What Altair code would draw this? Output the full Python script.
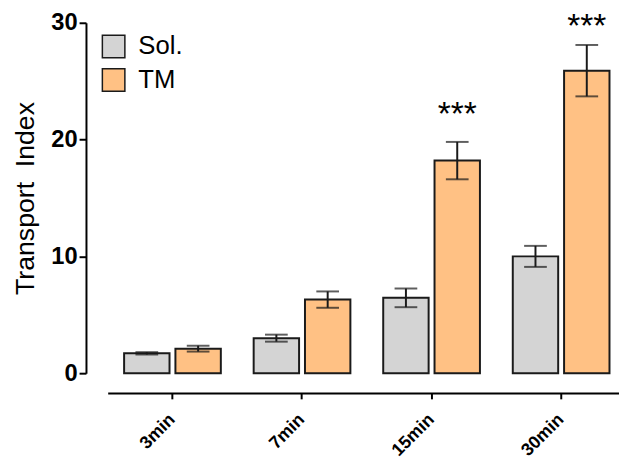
import altair as alt
import pandas as pd

groups = ["3min", "7min", "15min", "30min"]
series = ["Sol.", "TM"]
sol_mean = [1.7, 3.0, 6.45, 10.0]
sol_err = [0.1, 0.3, 0.8, 0.9]
tm_mean = [2.1, 6.3, 18.2, 25.9]
tm_err = [0.25, 0.7, 1.6, 2.2]
sig_labels = ["***", "***"]
sig_groups = ["15min", "30min"]
sig_y = [22.7, 30.2]
colors = ["#d4d4d4", "#ffc184"]

rows = []
for g, m, e in zip(groups, sol_mean, sol_err):
    rows.append({"group": g, "series": "Sol.", "mean": m, "lo": m - e, "hi": m + e})
for g, m, e in zip(groups, tm_mean, tm_err):
    rows.append({"group": g, "series": "TM", "mean": m, "lo": m - e, "hi": m + e})
df = pd.DataFrame(rows)
df_sig = pd.DataFrame({"group": sig_groups, "series": ["TM"] * len(sig_groups),
                       "label": sig_labels, "y": sig_y})

FONT = "Liberation Sans"

xenc = alt.X("group:N", sort=groups,
             scale=alt.Scale(range=[0, 525], paddingInner=0, paddingOuter=0),
             axis=alt.Axis(title=None, offset=20, domainColor="#000", domainWidth=2,
                           tickColor="#000", tickWidth=2, tickSize=6,
                           labelAngle=-45, labelAlign="right", labelBaseline="middle",
                           labelFont=FONT, labelFontWeight="bold", labelFontSize=18,
                           labelColor="#000", labelPadding=18, grid=False))
xoff = alt.XOffset("series:N", sort=series,
                   scale=alt.Scale(paddingInner=0.115, paddingOuter=0.32))
yscale = alt.Scale(domain=[0, 30], nice=False, zero=True)

bars = alt.Chart(df).mark_bar(stroke="#1a1a1a", strokeWidth=2).encode(
    x=xenc, xOffset=xoff,
    y=alt.Y("mean:Q", scale=yscale,
            axis=alt.Axis(values=[0, 10, 20, 30], title="Transport\u00a0\u00a0Index", offset=22,
                          domainColor="#000", domainWidth=2, tickColor="#000",
                          tickWidth=2, tickSize=7, labelFont=FONT, labelFontWeight="bold",
                          labelFontSize=24, labelColor="#000", labelPadding=2,
                          titleFont=FONT, titleFontWeight="normal", titleFontSize=27,
                          titleColor="#000", titlePadding=11, grid=False)),
    fill=alt.Fill("series:N", sort=series,
                  scale=alt.Scale(domain=series, range=colors),
                  legend=alt.Legend(title=None, orient="none", legendX=-7, legendY=11,
                                    symbolType="square", symbolSize=520,
                                    symbolStrokeColor="#1a1a1a", symbolStrokeWidth=1.5,
                                    labelFont=FONT, labelFontSize=26, labelColor="#000",
                                    labelOffset=12, rowPadding=4, padding=0)),
)

rules = alt.Chart(df).mark_rule(color="#1a1a1a", strokeWidth=2).encode(
    x=xenc, xOffset=xoff,
    y=alt.Y("lo:Q", scale=yscale,
            axis=alt.Axis(values=[v for v in range(2, 30, 2) if v % 10 != 0],
                          title=None, labels=False, domain=False, offset=22,
                          tickColor="#000", tickWidth=2, tickSize=4, grid=False)),
    y2="hi:Q",
)

caps = alt.Chart(df).transform_fold(["lo", "hi"], as_=["which", "v"]).mark_tick(
    color="#1a1a1a", thickness=2, size=23, orient="horizontal").encode(
    x=xenc, xOffset=xoff,
    y=alt.Y("v:Q", scale=yscale, axis=None),
)

stars = alt.Chart(df_sig).mark_text(font=FONT, fontSize=34, color="#000",
                                    baseline="middle", dy=7).encode(
    x=xenc, xOffset=xoff,
    y=alt.Y("y:Q", scale=yscale, axis=None),
    text="label:N",
)

chart = alt.layer(bars, rules, caps, stars).resolve_axis(y="independent").properties(
    width=518, height=355,
    autosize=alt.AutoSizeParams(type="none"),
    padding={"left": 101, "top": 12, "right": 0, "bottom": 87},
).configure_view(stroke=None)

chart.save("out.html", embed_options={"renderer": "svg", "actions": False})
